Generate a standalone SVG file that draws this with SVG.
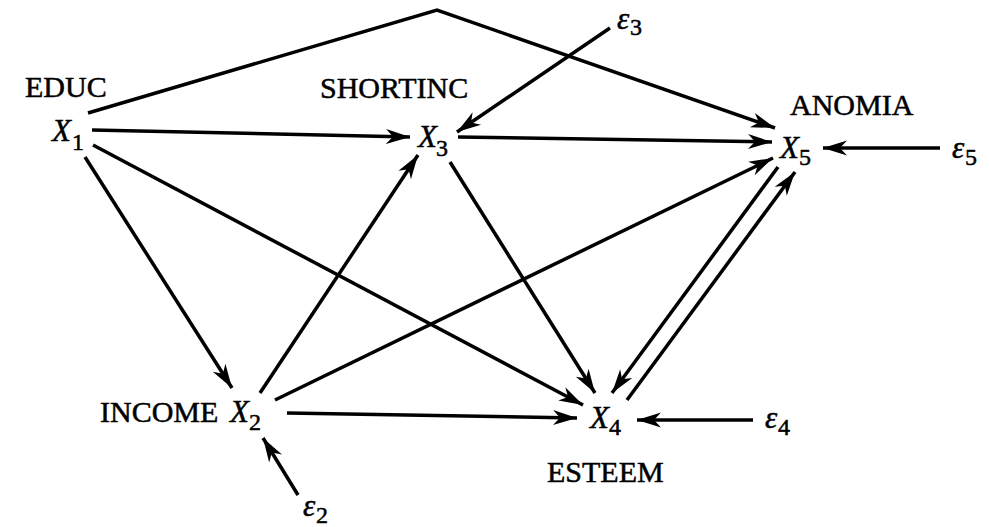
<svg xmlns="http://www.w3.org/2000/svg" width="989" height="527" viewBox="0 0 989 527">
<style>
.lbl{font-family:"Liberation Serif","Times New Roman",serif;font-size:30px;fill:#000;stroke:#000;stroke-width:0.5}
.var{font-family:"Liberation Serif","Times New Roman",serif;font-size:31px;font-style:italic;fill:#000;stroke:#000;stroke-width:0.5}
.sub{font-family:"Liberation Serif","Times New Roman",serif;font-size:24px;font-style:normal}
.e{stroke:#000;stroke-width:3.5;fill:none;marker-end:url(#ah)}
</style>
<defs>
<marker id="ah" markerUnits="userSpaceOnUse" markerWidth="26" markerHeight="18" viewBox="0 0 26 18" refX="24" refY="9" orient="auto">
<path d="M0,1.5 L24,9 L0,16.5 L7,9 z" fill="#000"/>
</marker>
</defs>
<rect width="989" height="527" fill="#fff"/>
<g id="connectors">
<polyline class="e" points="88,113 437,10 775,128"/>
<line class="e" x1="92" y1="130" x2="410" y2="137"/>
<line class="e" x1="85" y1="157" x2="232" y2="388"/>
<line class="e" x1="93" y1="145" x2="583" y2="405"/>
<line class="e" x1="458" y1="137" x2="772" y2="142"/>
<line class="e" x1="610" y1="28" x2="457" y2="132"/>
<line class="e" x1="450" y1="162" x2="595" y2="393"/>
<line class="e" x1="260" y1="393" x2="418" y2="155"/>
<line class="e" x1="275" y1="400" x2="773" y2="158"/>
<line class="e" x1="287" y1="413" x2="577" y2="418"/>
<line class="e" x1="778" y1="167" x2="612" y2="393"/>
<line class="e" x1="627" y1="400" x2="795" y2="172"/>
<line class="e" x1="940" y1="148" x2="823" y2="148"/>
<line class="e" x1="753" y1="420" x2="637" y2="420"/>
<line class="e" x1="298" y1="495" x2="263" y2="438"/>
</g>
<g id="x1">
<text class="lbl" x="25" y="97">EDUC</text>
<text class="var" x="52" y="141">X<tspan class="sub" x="72" y="150">1</tspan></text>
</g>
<g id="x3">
<text class="lbl" x="320" y="98">SHORTINC</text>
<text class="var" x="418" y="147">X<tspan class="sub" x="436" y="156">3</tspan></text>
</g>
<g id="x5">
<text class="lbl" x="790" y="115">ANOMIA</text>
<text class="var" x="780" y="158">X<tspan class="sub" x="799" y="165">5</tspan></text>
</g>
<g id="x2">
<text class="lbl" x="100" y="422">INCOME</text>
<text class="var" x="230" y="422">X<tspan class="sub" x="249" y="430">2</tspan></text>
</g>
<g id="x4">
<text class="lbl" x="547" y="482">ESTEEM</text>
<text class="var" x="590" y="428">X<tspan class="sub" x="609" y="435">4</tspan></text>
</g>
<g id="e3"><text class="var" x="617" y="29">ε<tspan class="sub" x="630" y="35">3</tspan></text></g>
<g id="e5"><text class="var" x="952" y="158">ε<tspan class="sub" x="965" y="165">5</tspan></text></g>
<g id="e4"><text class="var" x="765" y="428">ε<tspan class="sub" x="778" y="435">4</tspan></text></g>
<g id="e2"><text class="var" x="303" y="516">ε<tspan class="sub" x="316" y="523">2</tspan></text></g>
</svg>
